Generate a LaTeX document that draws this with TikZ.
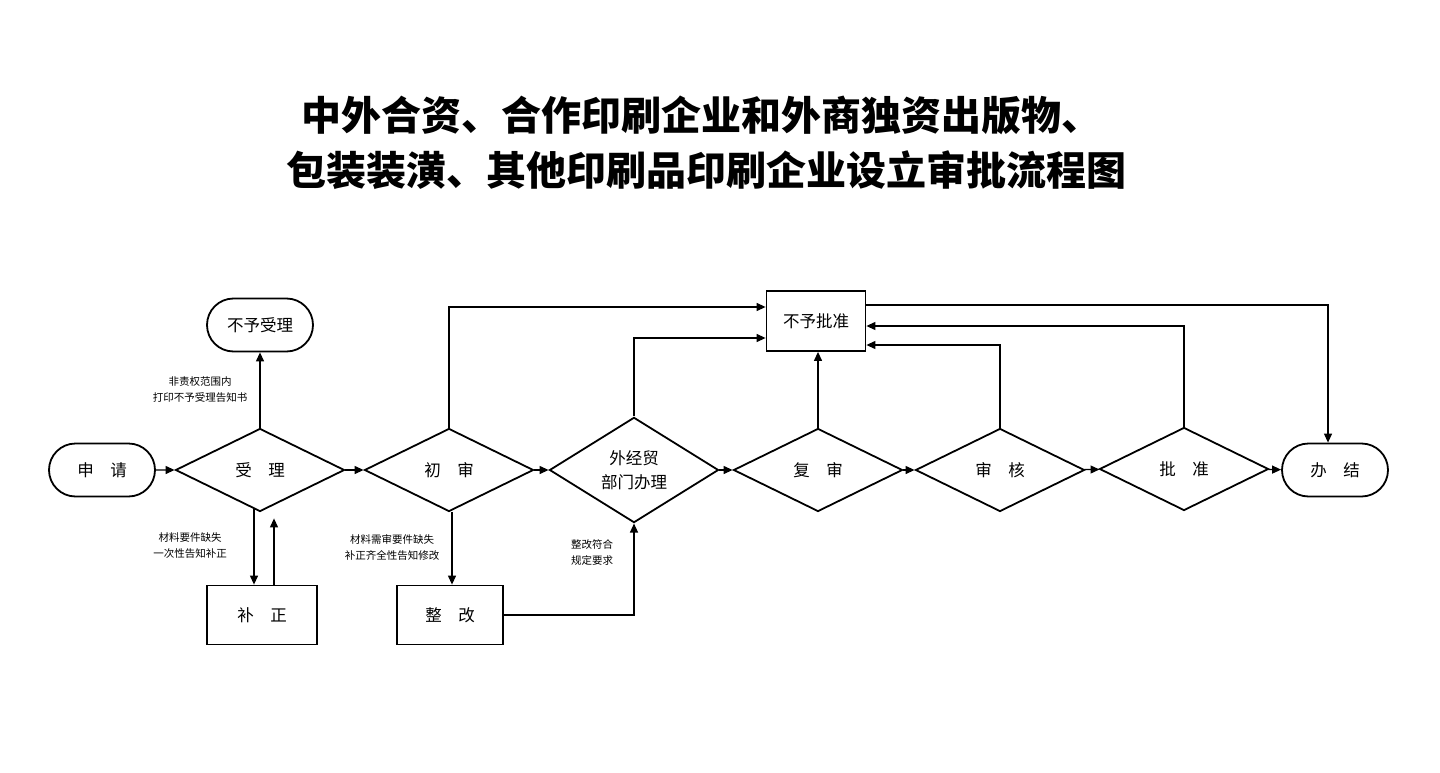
\documentclass[tikz,border=0pt]{standalone}
\usepackage{fontspec}
\setmainfont{Noto Sans CJK SC}
\usetikzlibrary{shapes.geometric,shapes.misc,arrows.meta}
\tikzset{
flow/.style={
  draw,
  line width=1.8pt,
  align=center,
  inner sep=0pt,
  font=\fontsize{16.5}{24}\selectfont
},
term/.style={flow,rounded rectangle,minimum width=106pt,minimum height=53pt},
check/.style={flow,diamond,minimum width=169pt,minimum height=83pt},
box/.style={flow,rectangle,minimum width=110pt,minimum height=59pt},
link/.style={line width=1.2pt,-{Triangle[length=9pt,width=8pt]}},
note/.style={align=center,font=\fontsize{10.5}{16}\selectfont},
}
\begin{document}
\begin{tikzpicture}[x=1pt,y=-1pt]
\useasboundingbox (0,0) rectangle (1440,773);
% the title
\node[font=\fontsize{40}{46}\selectfont\bfseries] (title1) at (701,115) {中外合资、合作印刷企业和外商独资出版物、};
\node[font=\fontsize{40}{46}\selectfont\bfseries] (title2) at (706,170) {包装装潢、其他印刷品印刷企业设立审批流程图};
% the main row
\node[term] (sq) at (102,470) {申\quad 请};
\node[check] (sl) at (260,470) {受\quad 理};
\node[check] (cs) at (449,470) {初\quad 审};
\node[check,minimum height=89pt] (wj) at (634,470) {外经贸\\部门办理};
\node[check] (fs) at (818,470) {复\quad 审};
\node[check] (sh) at (1000,470) {审\quad 核};
\node[check] (pz) at (1184,469) {批\quad 准};
\node[term] (bj) at (1335,470) {办\quad 结};
% the side boxes
\node[term] (bysl) at (260,325) {不予受理};
\node[box] (bz) at (262,615) {补\quad 正};
\node[box,minimum width=106pt] (zg) at (450,615) {整\quad 改};
\node[box,minimum width=99pt,minimum height=60pt] (bypz) at (816,321) {不予批准};
% the notes
\node[note] (n1) at (200,390) {非责权范围内\\打印不予受理告知书};
\node[note] (n2) at (190,546) {材料要件缺失\\一次性告知补正};
\node[note] (n3) at (392,548) {材料需审要件缺失\\补正齐全性告知修改};
\node[note] (n4) at (592,553) {整改符合\\规定要求};
% the arrows
\draw[link] (sq) -- (sl);
\draw[link] (sl) -- (cs);
\draw[link] (cs) -- (wj);
\draw[link] (wj) -- (fs);
\draw[link] (fs) -- (sh);
\draw[link] (sh) -- (pz);
\draw[link] (pz) -- (bj);
\draw[link] (sl.north) -- (bysl.south);
\coordinate (down) at ([xshift=-6pt,yshift=3pt]sl.south);
\coordinate (up) at ([xshift=12pt]bz.north);
\draw[link] (down) -- (down |- bz.north);
\draw[link,shorten >=6pt] (up) -- (up |- sl.south);
\draw[link] ([xshift=3pt]cs.south) -- ([xshift=3pt]cs.south |- zg.north);
\draw[link] (zg.east) -| (wj.south);
\draw[link] (cs.north) |- ([yshift=14pt]bypz.west);
\draw[link] (wj.north) |- ([yshift=-17pt]bypz.west);
\draw[link] (fs.north) -- (fs.north |- bypz.south);
\draw[link] (sh.north) |- ([yshift=-24pt]bypz.east);
\draw[link] (pz.north) |- ([yshift=-5pt]bypz.east);
\draw[link] ([yshift=16pt]bypz.east) -| ([xshift=-7pt]bj.north);
\end{tikzpicture}
\end{document}
